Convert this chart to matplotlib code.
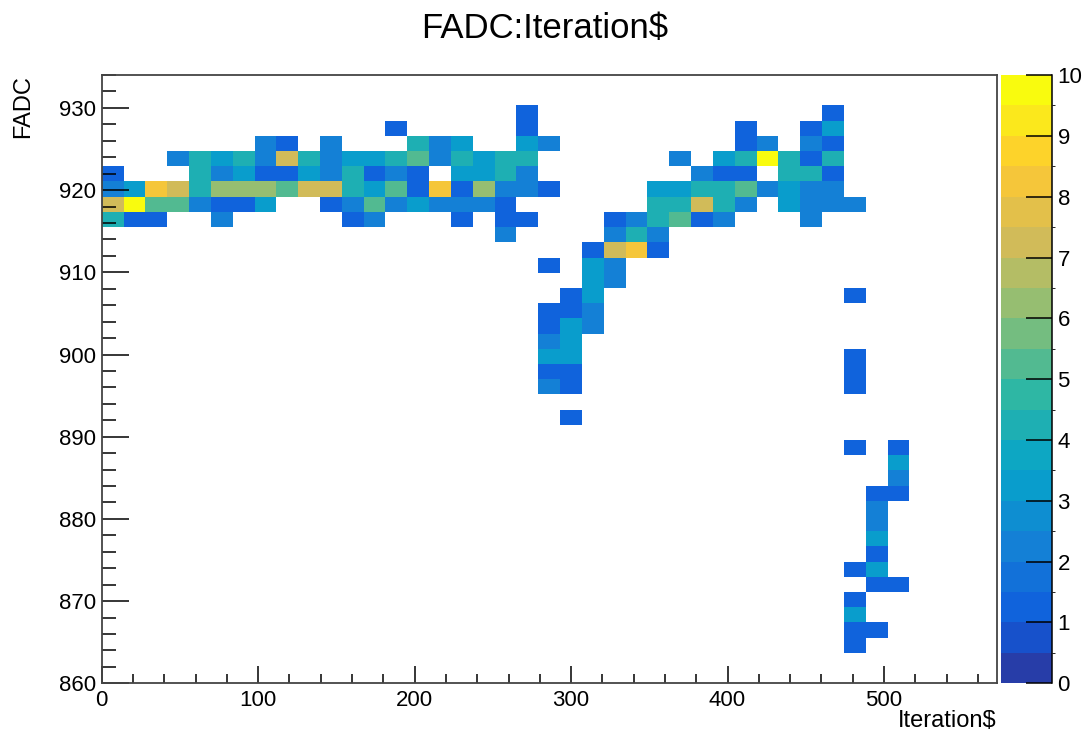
import numpy as np
import matplotlib.pyplot as plt
from matplotlib.colors import LinearSegmentedColormap, ListedColormap, BoundaryNorm
from matplotlib.ticker import MultipleLocator

plt.rcParams['font.family'] = ['Liberation Sans', 'DejaVu Sans']

# binning of the 2D histogram
iter_nbins, iter_min, iter_max = 41, 0.0, 572.0
fadc_nbins, fadc_min, fadc_max = 40, 860.0, 934.0

# bin contents, top FADC row first. '.' = empty, 'A' = 10, '|' only splits every 10 bins
rows = [
    "..........|..........|..........|..........|.",  # 39
    "..........|..........|..........|..........|.",  # 38
    "..........|.........1|..........|...1......|.",  # 37
    "..........|...1.....1|.........1|..13......|.",  # 36
    ".......21.|2...423..3|2........1|2.21......|.",  # 35
    "...2434274|2334524344|......2.34|A414......|.",  # 34
    "1...423113|24121.3342|.......211|.441......|.",  # 33
    "2387466657|7435181622|1....33445|2322......|.",  # 32
    "7A552113..|125232221.|.....44742|.3222.....|.",  # 31
    "411..2....|.12...1.11|...124512.|..2.......|.",  # 30
    "..........|........2.|...242....|..........|.",  # 29
    "..........|..........|..1781....|..........|.",  # 28
    "..........|..........|1.32......|..........|.",  # 27
    "..........|..........|..32......|..........|.",  # 26
    "..........|..........|.13.......|....1.....|.",  # 25
    "..........|..........|112.......|..........|.",  # 24
    "..........|..........|132.......|..........|.",  # 23
    "..........|..........|23........|..........|.",  # 22
    "..........|..........|33........|....1.....|.",  # 21
    "..........|..........|11........|....1.....|.",  # 20
    "..........|..........|21........|....1.....|.",  # 19
    "..........|..........|..........|..........|.",  # 18
    "..........|..........|.1........|..........|.",  # 17
    "..........|..........|..........|..........|.",  # 16
    "..........|..........|..........|....1.1...|.",  # 15
    "..........|..........|..........|......3...|.",  # 14
    "..........|..........|..........|......2...|.",  # 13
    "..........|..........|..........|.....11...|.",  # 12
    "..........|..........|..........|.....2....|.",  # 11
    "..........|..........|..........|.....2....|.",  # 10
    "..........|..........|..........|.....3....|.",  # 9
    "..........|..........|..........|.....1....|.",  # 8
    "..........|..........|..........|....13....|.",  # 7
    "..........|..........|..........|.....11...|.",  # 6
    "..........|..........|..........|....1.....|.",  # 5
    "..........|..........|..........|....3.....|.",  # 4
    "..........|..........|..........|....11....|.",  # 3
    "..........|..........|..........|....1.....|.",  # 2
    "..........|..........|..........|..........|.",  # 1
    "..........|..........|..........|..........|.",  # 0
]

x_ticks = [0, 100, 200, 300, 400, 500]
y_ticks = [860, 870, 880, 890, 900, 910, 920, 930]
z_ticks = [0, 1, 2, 3, 4, 5, 6, 7, 8, 9, 10]
z_levels = np.arange(0, 10.5, 0.5)

# ROOT kBird palette
bird_stops = [0.0, 0.125, 0.25, 0.375, 0.5, 0.625, 0.75, 0.875, 1.0]
bird_r = [0.2082, 0.0592, 0.0780, 0.0232, 0.1802, 0.5301, 0.8186, 0.9956, 0.9764]
bird_g = [0.1664, 0.3599, 0.5041, 0.6419, 0.7178, 0.7492, 0.7328, 0.7862, 0.9832]
bird_b = [0.5293, 0.8684, 0.8385, 0.7914, 0.6425, 0.4662, 0.3499, 0.1968, 0.0539]

bird = LinearSegmentedColormap('bird', {
    'red': [(s, v, v) for s, v in zip(bird_stops, bird_r)],
    'green': [(s, v, v) for s, v in zip(bird_stops, bird_g)],
    'blue': [(s, v, v) for s, v in zip(bird_stops, bird_b)],
}, N=255)
ncont = len(z_levels) - 1
palette = ListedColormap([bird(int((k + 0.99) * 255 / ncont)) for k in range(ncont)])
palette.set_over(palette.colors[-1])
palette.set_bad((1, 1, 1, 0))
norm = BoundaryNorm(z_levels, ncont)

def val(c):
    if c == '.':
        return 0
    if c == 'A':
        return 10
    return int(c)

counts = np.array([[val(c) for c in r.replace('|', '')] for r in rows[::-1]], float)
assert counts.shape == (fadc_nbins, iter_nbins)
counts = np.ma.masked_equal(counts, 0)
x_edges = np.linspace(iter_min, iter_max, iter_nbins + 1)
y_edges = np.linspace(fadc_min, fadc_max, fadc_nbins + 1)

fig = plt.figure(figsize=(10.89, 7.45), dpi=100)
ax = fig.add_axes([0.0934, 0.0828, 0.8218, 0.8165])
mesh = ax.pcolormesh(x_edges, y_edges, counts, cmap=palette, norm=norm, antialiased=False)

ax.set_xlim(iter_min, iter_max)
ax.set_ylim(fadc_min, fadc_max)
ax.set_xticks(x_ticks)
ax.set_yticks(y_ticks)
ax.xaxis.set_minor_locator(MultipleLocator(20))
ax.yaxis.set_minor_locator(MultipleLocator(2))
ax.tick_params(axis='x', which='major', direction='in', length=12, width=1.1, labelsize=16, pad=5)
ax.tick_params(axis='x', which='minor', direction='in', length=6.5, width=1.1)
ax.tick_params(axis='y', which='major', direction='in', length=19.5, width=1.1, labelsize=16, pad=4)
ax.tick_params(axis='y', which='minor', direction='in', length=10, width=1.1)
for s in ax.spines.values():
    s.set_linewidth(1.3)
    s.set_color('#444444')

ax.set_xlabel('Iteration$', fontsize=17, loc='right')
ax.xaxis.set_label_coords(1.0, -0.044)
ax.set_ylabel('FADC', fontsize=17, loc='top')
ax.yaxis.set_label_coords(-0.076, 1.0)

fig.text(0.5, 0.962, 'FADC:Iteration$', ha='center', va='center', fontsize=25)

cax = fig.add_axes([0.9192, 0.0828, 0.0468, 0.8165])
cbar = fig.colorbar(mesh, cax=cax, ticks=z_ticks)
cbar.outline.set_visible(False)
cax.tick_params(direction='in', length=19, width=1.1, labelsize=16, pad=4)
cax.plot([1, 1], [0, 1], transform=cax.transAxes, color='black', lw=1.1, clip_on=False)

fig.savefig('out.png', dpi=100)
